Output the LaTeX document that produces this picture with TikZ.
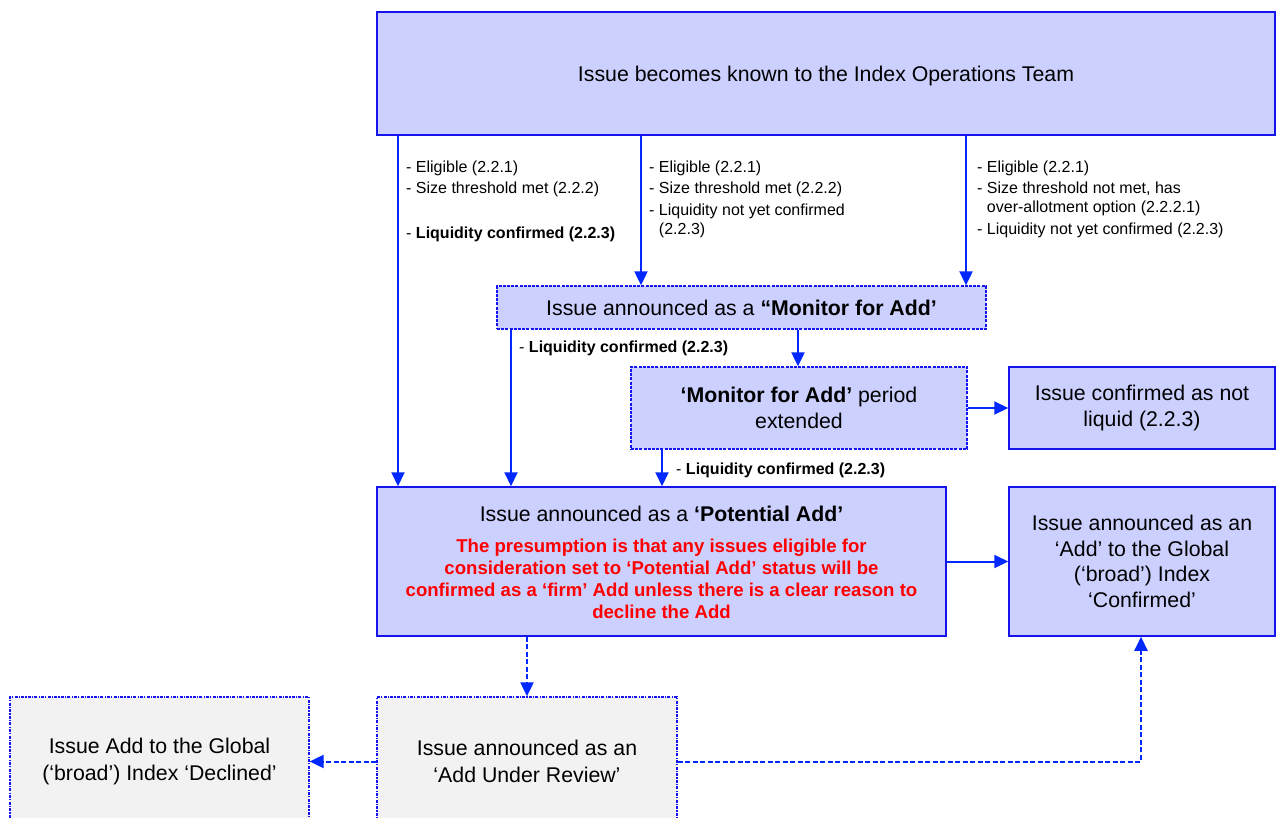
\documentclass[tikz,border=0pt]{standalone}
\usepackage{fontspec}
\setmainfont{Liberation Sans}
\usetikzlibrary{arrows.meta}
\definecolor{boxfill}{RGB}{204,208,255}
\definecolor{boxblue}{RGB}{20,20,235}
\definecolor{arrblue}{RGB}{0,40,255}
\definecolor{greyfill}{RGB}{242,242,242}
\definecolor{redtxt}{RGB}{255,0,0}
\tikzset{
  box/.style={draw=boxblue, line width=1.5pt, fill=boxfill, align=center, inner sep=0pt,
    font=\fontsize{21.3}{25.5}\selectfont},
  dbox/.style={box, line width=1.3pt, dash pattern=on 3pt off 1.2pt},
  gbox/.style={draw=boxblue, line width=1.3pt, dash pattern=on 3pt off 1.2pt on 1.2pt off 1.2pt,
    fill=greyfill, align=center, inner sep=0pt, font=\fontsize{21.3}{26.5}\selectfont},
  arr/.style={draw=arrblue, line width=2pt, -{Triangle[length=14pt,width=13pt]}},
  darr/.style={arr, dash pattern=on 5pt off 2.5pt},
  lbl/.style={anchor=north west, align=left, inner sep=0pt, font=\fontsize{16}{21}\selectfont},
  lbw/.style={anchor=west, inner sep=0pt, font=\fontsize{16}{21}\selectfont},
  txt/.style={inner sep=0pt, align=center}
}
\begin{document}
\begin{tikzpicture}[x=1pt,y=-1pt]
\useasboundingbox (0,0) rectangle (1281,818);
\clip (0,0) rectangle (1281,818);
% boxes
\node[box, minimum width=898pt, minimum height=123pt] (top) at (826,73.5) {};
\node[txt, font=\fontsize{21.3}{25.5}\selectfont] (toptext) at (826,75.5)
  {Issue becomes known to the Index Operations Team};
\node[dbox, minimum width=489pt, minimum height=43pt] (mon) at (741.5,307.5)
  {Issue announced as a \textbf{“Monitor for Add’}};
\node[dbox, minimum width=336pt, minimum height=82pt] (ext) at (799,408)
  {\textbf{‘Monitor for Add’} period\\extended};
\node[box, minimum width=266pt, minimum height=82pt] (nl) at (1142,408)
  {Issue confirmed as not\\liquid (2.2.3)};
\node[box, minimum width=569pt, minimum height=149pt] (pot) at (661.5,561.5) {};
\node[txt, font=\fontsize{21.3}{25.5}\selectfont] (pottitle) at (661.5,514)
  {Issue announced as a \textbf{‘Potential Add’}};
\node[txt, text=redtxt, font=\fontsize{18.6}{22}\selectfont\bfseries] (potnote) at (661.5,579)
  {The presumption is that any issues eligible for\\
   consideration set to ‘Potential Add’ status will be\\
   confirmed as a ‘firm’ Add unless there is a clear reason to\\
   decline the Add};
\node[box, minimum width=266pt, minimum height=149pt] (conf) at (1142,561.5)
  {Issue announced as an\\‘Add’ to the Global\\(‘broad’) Index\\‘Confirmed’};
\node[gbox, minimum width=300pt, minimum height=129pt] (aur) at (527,761.5)
  {Issue announced as an\\‘Add Under Review’};
\node[gbox, minimum width=299pt, minimum height=129pt] (dec) at (159.5,761.5)
  {Issue Add to the Global\\(‘broad’) Index ‘Declined’};
% labels
\node[lbl] (l1) at (406,161)
  {- Eligible (2.2.1)\\- Size threshold met (2.2.2)\\[24pt]- \textbf{Liquidity confirmed (2.2.3)}};
\node[lbl] (l2) at (649,161)
  {- Eligible (2.2.1)\\- Size threshold met (2.2.2)\\[1pt]- Liquidity not yet confirmed\\[-2pt]\phantom{- }(2.2.3)};
\node[lbl] (l3) at (977,161)
  {- Eligible (2.2.1)\\- Size threshold not met, has\\[-2pt]\phantom{- }over-allotment option (2.2.2.1)\\[1pt]- Liquidity not yet confirmed (2.2.3)};
\node[lbw] (l4) at (519,348) {- \textbf{Liquidity confirmed (2.2.3)}};
\node[lbw] (l5) at (676,470) {- \textbf{Liquidity confirmed (2.2.3)}};
% connectors
\draw[arr] (top.south -| 398,0) -- (pot.north -| 398,0);
\draw[arr] (top.south -| 641,0) -- (mon.north -| 641,0);
\draw[arr] (top.south -| 966,0) -- (mon.north -| 966,0);
\draw[arr] (mon.south -| 511,0) -- (pot.north -| 511,0);
\draw[arr] (mon.south -| 798,0) -- (ext.north -| 798,0);
\draw[arr] (ext.south -| 662,0) -- (pot.north -| 662,0);
\draw[arr] (ext.east) -- (nl.west);
\draw[arr] (pot.east) -- (conf.west);
\draw[darr] (pot.south -| 527,0) -- (aur.north -| 527,0);
\draw[darr] (aur.west) -- (dec.east);
\draw[darr] (aur.east) -| (conf.south -| 1141,0);
\end{tikzpicture}
\end{document}
